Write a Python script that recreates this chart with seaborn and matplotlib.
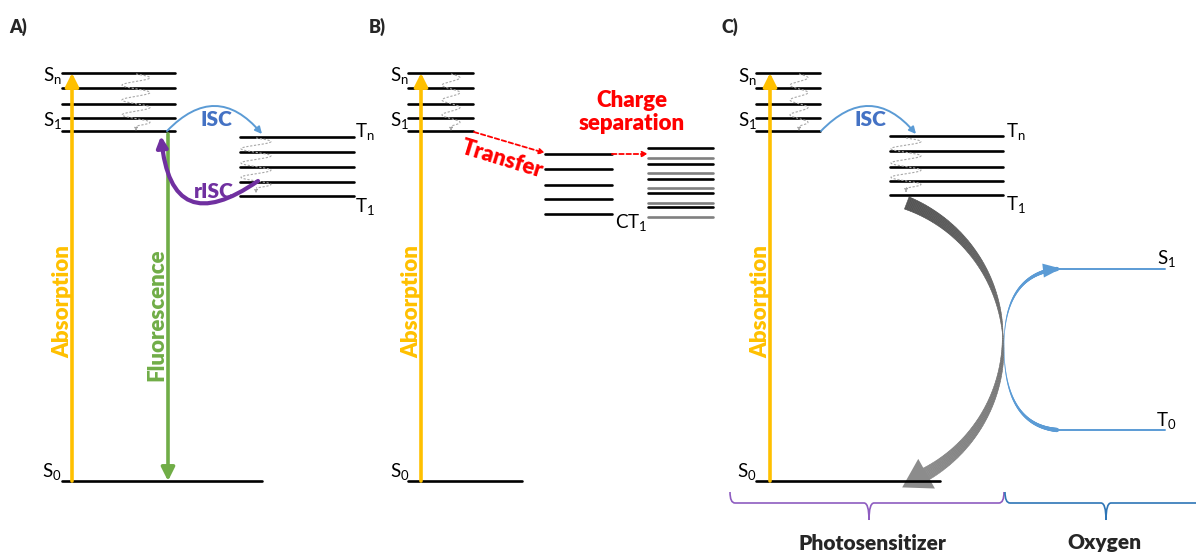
import numpy as np
import pandas as pd
import matplotlib
matplotlib.use("Agg")
import matplotlib.pyplot as plt
from matplotlib.collections import LineCollection, PolyCollection
from matplotlib.patches import Polygon, PathPatch
from matplotlib.path import Path
import seaborn as sns

sns.set_theme(style="white")
plt.rcParams['font.family'] = ['Lato', 'DejaVu Sans']
plt.rcParams['mathtext.fontset'] = 'custom'
plt.rcParams['mathtext.rm'] = 'Lato'
plt.rcParams['mathtext.it'] = 'Lato:italic'
plt.rcParams['mathtext.bf'] = 'Lato:bold'

# Energia de los niveles (px desde arriba de la figura)
singlet_y = [73, 88, 104, 118, 131]
triplet_y = [137, 152, 167, 182, 196]
triplet_c_y = [136, 151, 167, 181, 195]
ct_y = [154, 169, 185, 199, 214]
cs_y = [148, 158, 164, 173, 179, 188, 193, 203, 207, 217]
cs_shade = ['dark', 'light'] * 5
ground_y = 481
oxygen_y = [269, 430]
oxygen_names = ['S1', 'T0']

# Etiquetas
panel_labels = ['A)', 'B)', 'C)']
group_labels = ['Photosensitizer', 'Oxygen']

ORANGE = '#FFC000'
GREEN = '#70AD47'
BLUE = '#4472C4'
LBLUE = '#5B9BD5'
PURPLE = '#7030A0'
RED = '#FF0000'
BOLD = 'heavy'

fig = plt.figure(figsize=(11.96, 5.54), dpi=100)
ax = fig.add_axes([0, 0, 1, 1])

# ---- niveles de energia con seaborn ----
rows = []
def add_levels(stack, x0, x1, ys, shades=None):
    for i, y in enumerate(ys):
        sh = shades[i] if shades else 'dark'
        rows.append((stack, i, x0, y, sh))
        rows.append((stack, i, x1, y, sh))

add_levels('A_S', 62, 175, singlet_y)
add_levels('A_T', 240, 354, triplet_y)
add_levels('A_0', 62, 262, [ground_y])
add_levels('B_S', 408, 473, singlet_y)
add_levels('B_0', 408, 522, [ground_y])
add_levels('B_CT', 545, 612, ct_y)
add_levels('B_CS', 648, 713, cs_y, cs_shade)
add_levels('C_S', 756, 820, singlet_y)
add_levels('C_T', 890, 1003, triplet_c_y)
add_levels('C_0', 756, 940, [ground_y])
levels = pd.DataFrame(rows, columns=['stack', 'idx', 'x', 'y', 'shade'])
levels['unit'] = levels['stack'] + '_' + levels['idx'].astype(str)

sns.lineplot(data=levels, x='x', y='y', units='unit', estimator=None, hue='shade',
             palette={'dark': 'black', 'light': '#808080'}, lw=1.9, sort=False,
             legend=False, ax=ax)

oxy = pd.DataFrame({'x': [1057, 1165, 1057, 1165],
                    'y': [oxygen_y[0], oxygen_y[0], oxygen_y[1], oxygen_y[1]],
                    'name': [oxygen_names[0]] * 2 + [oxygen_names[1]] * 2})
sns.lineplot(data=oxy, x='x', y='y', units='name', estimator=None, color=LBLUE,
             lw=1.4, sort=False, legend=False, ax=ax)

# ---- etiquetas de niveles ----
def lvl(x, y, main, sub, ha):
    ax.text(x, y, r'$\mathrm{%s}_{\mathrm{%s}}$' % (main, sub), fontsize=13.5,
            ha=ha, va='baseline', color='black')

lvl(62, 81, 'S', 'n', 'right'); lvl(62, 126, 'S', '1', 'right'); lvl(62, 477, 'S', '0', 'right')
lvl(355, 137, 'T', 'n', 'left'); lvl(355, 212, 'T', '1', 'left')
lvl(409, 81, 'S', 'n', 'right'); lvl(409, 126, 'S', '1', 'right'); lvl(410, 477, 'S', '0', 'right')
lvl(615, 228, 'CT', '1', 'left')
lvl(757, 82, 'S', 'n', 'right'); lvl(757, 126, 'S', '1', 'right'); lvl(757, 477, 'S', '0', 'right')
lvl(1006, 137, 'T', 'n', 'left'); lvl(1006, 210, 'T', '1', 'left')
lvl(1176, 264, 'S', '1', 'right'); lvl(1176, 426, 'T', '0', 'right')

for lab, x in zip(panel_labels, [9, 369, 721]):
    ax.text(x, 27, lab, fontsize=13, fontweight=BOLD, va='center', ha='left')

# ---- relajacion vibracional (ondas grises) ----
def wave(cx, y0, y1, amp, ydrop):
    t = np.linspace(0, 1, 300)
    ax.plot(cx + amp * np.sin(2 * np.pi * 3.5 * t), y0 + (y1 - y0) * t,
            color='#A8A8A8', lw=0.8, ls=(0, (2, 1.5)))
    ax.annotate('', xy=(cx, ydrop), xytext=(cx, y1),
                arrowprops=dict(arrowstyle='-|>', color='#A0A0A0', lw=0.7,
                                ls=':', mutation_scale=5))

wave(136, 74, 126, 14, 131)
wave(256, 138, 188, 15, 196)
wave(451, 74, 126, 9, 131)
wave(799, 74, 126, 9, 131)
wave(906, 138, 188, 15, 195)

# ---- absorcion / fluorescencia ----
def vert_arrow(x, y0, y1, color, lw=2.6, ms=20):
    ax.annotate('', xy=(x, y1), xytext=(x, y0),
                arrowprops=dict(arrowstyle='-|>', color=color, lw=lw,
                                mutation_scale=ms, shrinkA=0, shrinkB=0))

for x in [72, 421, 770]:
    vert_arrow(x, ground_y, singlet_y[0], ORANGE)
    ax.text(x - 9, 302, 'Absorption', rotation=90, color=ORANGE, fontsize=16,
            fontweight=BOLD, ha='center', va='center')
vert_arrow(168, singlet_y[-1] + 3, ground_y, GREEN)
ax.text(157, 315, 'Fluorescence', rotation=90, color=GREEN, fontsize=16,
        fontweight=BOLD, ha='center', va='center')

# ---- ISC / rISC ----
for x0, x1 in [(167, 262), (821, 916)]:
    ax.annotate('', xy=(x1, 134), xytext=(x0, 131),
                arrowprops=dict(arrowstyle='-|>', color=LBLUE, lw=1.4, mutation_scale=10,
                                shrinkA=0, shrinkB=0, connectionstyle='arc3,rad=-0.55'))
    ax.text((x0 + x1) / 2 + 2, 119, 'ISC', color=BLUE, fontsize=15,
            fontweight=BOLD, ha='center', va='center')
ax.annotate('', xy=(161, 136), xytext=(258, 181),
            arrowprops=dict(arrowstyle='-|>', color=PURPLE, lw=3, mutation_scale=16,
                            shrinkA=0, shrinkB=0, connectionstyle='arc3,rad=-0.85'))
ax.text(214, 191, 'rISC', color=PURPLE, fontsize=15, fontweight=BOLD,
        ha='center', va='center')

# ---- transferencia de carga ----
def red_dash(p0, p1):
    ax.annotate('', xy=p1, xytext=p0,
                arrowprops=dict(arrowstyle='-|>', color=RED, lw=1.3, ls=(0, (2.5, 1.5)),
                                mutation_scale=8, shrinkA=0, shrinkB=0))

red_dash((474, 132), (545, 153))
red_dash((612, 154), (648, 154))
ax.text(502, 159, 'Transfer', color=RED, fontsize=16, fontweight=BOLD,
        rotation=-17, ha='center', va='center', rotation_mode='anchor')
ax.text(632, 112, 'Charge\nseparation', color=RED, fontsize=16, fontweight=BOLD,
        ha='center', va='center', linespacing=1.1)

# ---- flecha gris (transferencia de energia al oxigeno) ----
def qbez(p0, c, p2, n=120):
    t = np.linspace(0, 1, n)[:, None]
    p0, c, p2 = map(np.array, (p0, c, p2))
    return (1 - t) ** 2 * p0 + 2 * (1 - t) * t * c + t ** 2 * p2

ctr, rad = np.array([853, 343]), 150
ang = np.radians(np.linspace(-69, 61, 200))
pts = ctr + rad * np.column_stack([np.cos(ang), np.sin(ang)])
outw = np.column_stack([np.cos(ang), np.sin(ang)])
tt = np.linspace(0, 1, len(pts))
half = 0.3 + 6.2 * np.abs(2 * tt - 1) ** 0.9
left, right = pts + outw * half[:, None], pts - outw * half[:, None]
quads = [[left[i], left[i + 1], right[i + 1], right[i]] for i in range(len(pts) - 1)]
g0, g1 = 0.33, 0.55
qcols = [(g0 + (g1 - g0) * s,) * 3 for s in tt[:-1]]
ax.add_collection(PolyCollection(quads, facecolors=qcols, edgecolors=qcols, linewidths=0.4))
end = pts[-1]
d = pts[-1] - pts[-2]
d = d / np.hypot(*d)
nrm = np.array([-d[1], d[0]])
tip = end + 27 * d
base = end - 1 * d
ax.add_patch(Polygon([tip, base + 17 * nrm, base - 17 * nrm], closed=True,
                     color=(g1, g1, g1), lw=0))

# ---- curva azul del oxigeno ----
for c, p2, head in [((1004, 425), (1057, oxygen_y[1]), False),
                    ((1004, 275), (1057, oxygen_y[0]), True)]:
    pts = qbez((1004, 346), c, p2)
    segs = np.stack([pts[:-1], pts[1:]], axis=1)
    w = 0.3 + 2.8 * np.linspace(0, 1, len(segs)) ** 1.2
    ax.add_collection(LineCollection(segs, linewidths=w, colors=LBLUE, capstyle='round'))
    if head:
        d = np.array(p2) - np.array(c)
        d = d / np.hypot(*d)
        nrm = np.array([-d[1], d[0]])
        tip = np.array(p2) + 4 * d
        base = np.array(p2) - 14 * d
        ax.add_patch(Polygon([tip, base + 7 * nrm, base - 7 * nrm], closed=True,
                             color=LBLUE, lw=0))

# ---- llaves ----
def brace(x0, x1, xm, color, yt=492, ym=503, yb=520, r=5):
    codes = [Path.MOVETO, Path.CURVE3, Path.CURVE3, Path.LINETO, Path.CURVE3, Path.CURVE3,
             Path.MOVETO, Path.CURVE3, Path.CURVE3, Path.LINETO, Path.CURVE3, Path.CURVE3]
    verts = [(x0, yt), (x0, ym), (x0 + r, ym), (xm - r, ym), (xm, ym), (xm, yb),
             (xm, yb), (xm, ym), (xm + r, ym), (x1 - r, ym), (x1, ym), (x1, yt)]
    ax.add_patch(PathPatch(Path(verts, codes), fill=False, edgecolor=color, lw=1.2))

brace(730, 1004, 869, '#8E5CC0')
brace(1005, 1215, 1106, '#2E75B6')
ax.text(872, 543, group_labels[0], fontsize=15, fontweight=BOLD, ha='center', va='center')
ax.text(1104, 543, group_labels[1], fontsize=15, fontweight=BOLD, ha='center', va='center')

ax.set_xlim(0, 1196)
ax.set_ylim(554, 0)
ax.axis('off')
fig.savefig('out.png', dpi=100)
